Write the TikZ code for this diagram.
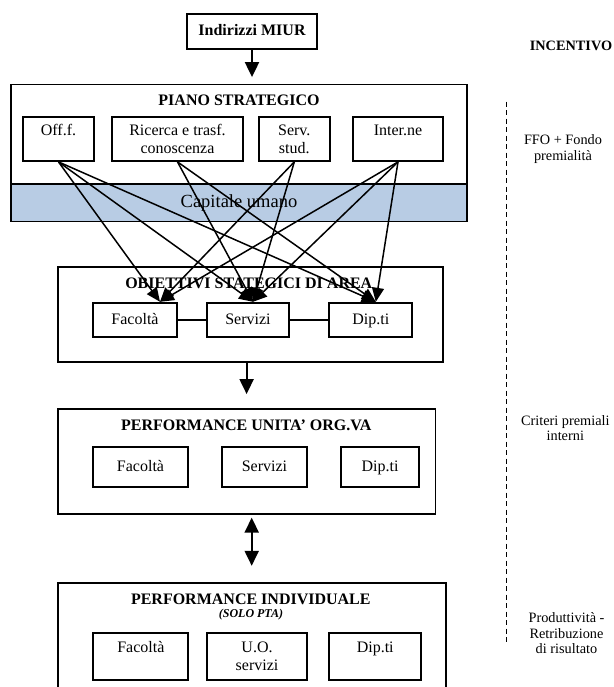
\documentclass[tikz,border=0pt]{standalone}
\usepackage{fontspec}
\setmainfont{Liberation Serif}
\usetikzlibrary{arrows.meta}
\definecolor{bandblue}{RGB}{184,204,228}
\newcommand{\normtxt}{\fontsize{16}{18}\selectfont}
\newcommand{\sidetxt}{\fontsize{14.3}{15.5}\selectfont}
\newcommand{\captxt}{\fontsize{18.5}{20}\selectfont}
\newcommand{\notetxt}{\fontsize{12}{14}\selectfont}

\begin{document}
\begin{tikzpicture}[x=1pt,y=-1pt,>={Triangle[length=15pt,width=14pt]},
  box/.style={draw,line width=1.8pt,inner sep=0pt,align=center,font=\normtxt},
  oneline/.style={text height=12pt,text depth=4pt},
  twolines/.style={execute at begin node={\rule{0pt}{17pt}}},
  area/.style={draw,line width=1.8pt,inner sep=0pt},
  title/.style={font=\normtxt\bfseries},
  link/.style={->,line width=1.5pt,>={Triangle[length=14pt,width=12pt]}},
  flow/.style={->,line width=2pt},
  side/.style={align=center,font=\sidetxt}]
  \clip (0,0) rectangle (613,687);

  % indirizzi e piano strategico
  \node[box,oneline,minimum width=130pt,minimum height=35.3pt,font=\normtxt\bfseries] (miur) at (252,31.7) {Indirizzi MIUR};
  \node[area,minimum width=456.6pt,minimum height=137pt] (piano) at (239,153) {};
  \node[area,fill=bandblue,minimum width=456.6pt,minimum height=37.2pt,font=\captxt] (capum) at (239,202.9) {Capitale umano};
  \node[title] (pianotit) at (239,100) {PIANO STRATEGICO};
  \node[box,twolines,minimum width=71.6pt,minimum height=44.3pt] (off) at (58.5,138.85) {Off.f.\\~};
  \node[box,twolines,minimum width=131pt,minimum height=44.3pt] (ric) at (177.5,138.85) {Ricerca e trasf.\\conoscenza};
  \node[box,twolines,minimum width=71.3pt,minimum height=44.3pt] (srv) at (294.3,138.85) {Serv.\\stud.};
  \node[box,twolines,minimum width=90.6pt,minimum height=44.3pt] (int) at (398,138.85) {Inter.ne\\~};

  % obiettivi di area
  \node[area,minimum width=385.6pt,minimum height=95pt] (obj) at (250.5,314.2) {};
  \node[title] (objtit) at (248.8,283.3) {OBIETTIVI STATEGICI DI AREA};
  \node[box,oneline,minimum width=83.4pt,minimum height=34.6pt] (fa1) at (135,320) {Facoltà};
  \node[box,oneline,minimum width=82.6pt,minimum height=34.6pt] (se1) at (248,320) {Servizi};
  \node[box,oneline,minimum width=83pt,minimum height=34.6pt] (di1) at (370.8,320) {Dip.ti};
  \draw[line width=1.2pt] (fa1) -- (se1) (se1) -- (di1);

  % performance unita' organizzativa
  \node[area,minimum width=377.8pt,minimum height=105.3pt] (pu) at (246.6,461.65) {};
  \node[title] (putit) at (246.3,425) {PERFORMANCE UNITA’ ORG.VA};
  \node[box,oneline,minimum width=94.4pt,minimum height=39.4pt] (fa2) at (140.5,467) {Facoltà};
  \node[box,oneline,minimum width=85pt,minimum height=39.4pt] (se2) at (264.5,467) {Servizi};
  \node[box,oneline,minimum width=78pt,minimum height=39.4pt] (di2) at (380,467) {Dip.ti};

  % performance individuale
  \node[area,minimum width=388pt,minimum height=116.7pt] (pind) at (251.7,641.65) {};
  \node[title] (pindtit) at (250.8,599) {PERFORMANCE INDIVIDUALE};
  \node[font=\notetxt\bfseries\itshape] (pindsub) at (251,615) {(SOLO PTA)};
  \node[box,twolines,minimum width=95pt,minimum height=47.3pt] (fa3) at (140.8,656.35) {Facoltà\\~};
  \node[box,twolines,minimum width=100.6pt,minimum height=47.3pt] (uo) at (257,656.35) {U.O.\\servizi};
  \node[box,twolines,minimum width=91.7pt,minimum height=47.3pt] (di3) at (375.2,656.35) {Dip.ti\\~};

  % frecce
  \draw[flow,shorten >=6.5pt] (miur.south) -- (miur.south |- piano.north);
  \coordinate (fa1in) at ([xshift=25pt]fa1.north);
  \coordinate (se1in) at ([xshift=5pt]se1.north);
  \coordinate (di1in) at ([xshift=5pt]di1.north);
  \foreach \from/\to in {off/fa1in,off/se1in,off/di1in,ric/se1in,ric/di1in,
                         srv/fa1in,srv/se1in,int/fa1in,int/se1in,int/di1in}
    \draw[link] (\from.south) -- (\to);
  \draw[flow,shorten >=14pt] (obj.south -| pu.north) -- (pu.north);
  \draw[<->,line width=2pt,shorten <=2.4pt,shorten >=16.6pt] (pu.south -| pind.north) -- (pind.north);

  % incentivo
  \draw[line width=1.2pt,dash pattern=on 5pt off 3.5pt] (506.7,101.7) -- (506.7,644);
  \node[side,font=\sidetxt\bfseries] (incentivo) at (571,46) {INCENTIVO};
  \node[side] (ffo) at (563,149.2) {FFO + Fondo\\premialità};
  \node[side] (criteri) at (565.3,428.3) {Criteri premiali\\interni};
  \node[side] (produtt) at (566.5,633.3) {Produttività -\\Retribuzione\\di risultato};
\end{tikzpicture}
\end{document}
